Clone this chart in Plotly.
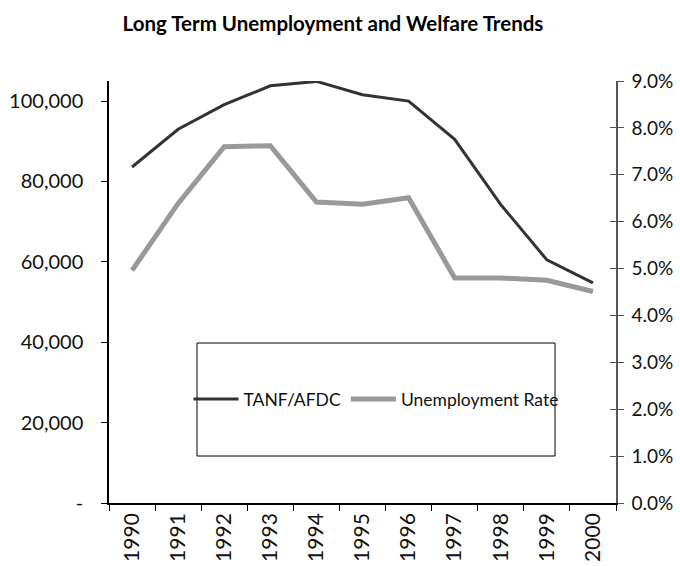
import plotly.graph_objects as go

years = ["1990", "1991", "1992", "1993", "1994", "1995", "1996", "1997", "1998", "1999", "2000"]
tanf_afdc = [83600, 93000, 99100, 103800, 104900, 101600, 100000, 90500, 74250, 60500, 54750]
unemployment_rate = [0.0496, 0.0639, 0.0760, 0.0762, 0.0642, 0.0637, 0.0651, 0.0480, 0.0480, 0.0475, 0.0451]

left_ticks = [0, 20000, 40000, 60000, 80000, 100000]
left_tick_text = ["-", "20,000", "40,000", "60,000", "80,000", "100,000"]

FONT = "Lato"

fig = go.Figure()
fig.add_trace(go.Scatter(
    x=years, y=tanf_afdc, name="TANF/AFDC", mode="lines",
    line=dict(color="#333333", width=3), yaxis="y"))
fig.add_trace(go.Scatter(
    x=years, y=unemployment_rate, name="Unemployment Rate", mode="lines",
    line=dict(color="#999999", width=5), yaxis="y2"))
# helper trace so the crossing-tick overlay axis gets drawn
fig.add_trace(go.Scatter(
    x=years, y=[None] * len(years), yaxis="y3", showlegend=False,
    hoverinfo="skip", mode="lines"))

# legend frame
fig.add_shape(type="rect", xref="paper", yref="paper",
              x0=(197 - 109) / 507, x1=(555 - 109) / 507,
              y0=(503 - 456) / 422, y1=(503 - 343) / 422,
              line=dict(color="black", width=1), fillcolor="white", layer="below")

fig.update_layout(
    width=680, height=566,
    margin=dict(l=109, r=64, t=81, b=63),
    paper_bgcolor="white", plot_bgcolor="rgba(0,0,0,0)",
    font=dict(family=FONT, size=18, color="#111111"),
    title=dict(text="<b>Long Term Unemployment and Welfare Trends</b>",
               x=333 / 680, xanchor="center", y=1 - 24 / 566, yanchor="middle",
               font=dict(family=FONT, size=20.5, color="black")),
    xaxis=dict(type="category", range=[-0.5, 10.5], tickangle=-90,
               tickson="boundaries", ticks="outside", ticklen=6, tickcolor="black",
               showline=True, linecolor="black", linewidth=1.5, showgrid=False,
               tickfont=dict(size=21), zeroline=False, automargin=False),
    yaxis=dict(range=[0, 105000], tickvals=left_ticks, ticktext=left_tick_text,
               ticks="outside", ticklen=6, tickcolor="black", showline=True,
               linecolor="black", linewidth=1.5, showgrid=False, zeroline=False,
               ticklabelstandoff=14, tickfont=dict(size=20), automargin=False),
    yaxis2=dict(range=[0, 0.09], dtick=0.01, tickformat=".1%", overlaying="y",
                side="right", ticks="outside", ticklen=6, tickcolor="#555555",
                showline=True, linecolor="#555555", linewidth=1.5, showgrid=False,
                zeroline=False, ticklabelstandoff=4, tickfont=dict(size=19),
                automargin=False),
    yaxis3=dict(range=[0, 0.09], dtick=0.01, overlaying="y", side="right",
                ticks="inside", ticklen=6, tickcolor="#555555", showline=False,
                showgrid=False, zeroline=False, showticklabels=False,
                automargin=False),
    legend=dict(orientation="h", x=(376 - 109) / 507, xanchor="center",
                y=(503 - 399) / 422, yanchor="middle", bgcolor="rgba(0,0,0,0)",
                borderwidth=0, itemwidth=45, font=dict(size=17.5), traceorder="normal"),
    showlegend=True,
)

fig.write_html("out.html")
